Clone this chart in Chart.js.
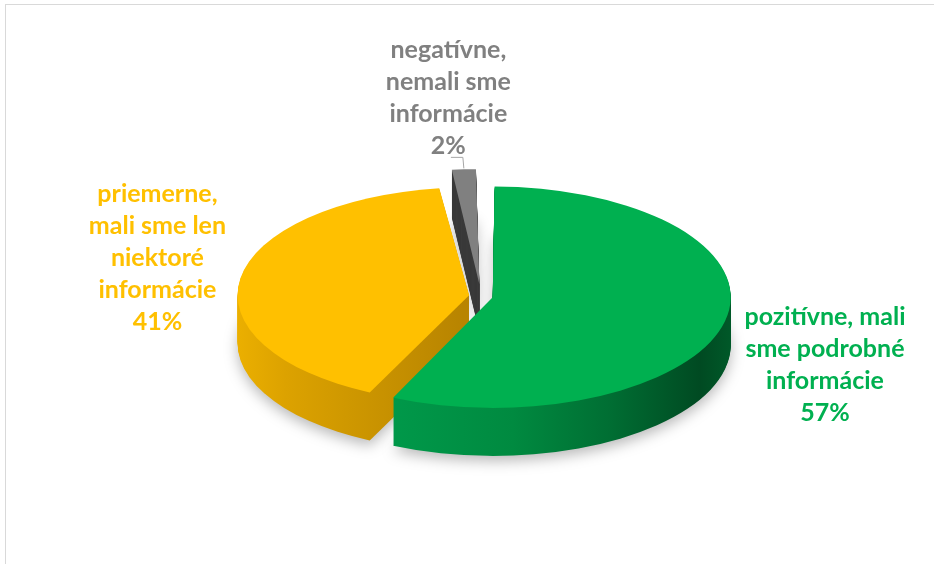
<!DOCTYPE html>
<html><head><meta charset="utf-8">
<script src="https://cdn.jsdelivr.net/npm/chart.js@4"></script>
<style>
html,body{margin:0;padding:0;background:#fff;overflow:hidden;width:934px;height:564px}
#frame{position:absolute;left:5px;top:4px;width:1000px;height:1000px;border-top:1px solid #d9d9d9;border-left:1px solid #d9d9d9;}
canvas{position:absolute;left:0;top:0}
</style></head><body>
<div id="frame"></div>
<canvas id="c" width="934" height="564"></canvas>
<script>
// ---- data ----
const categories = [
  "pozitívne, mali sme podrobné informácie",
  "priemerne, mali sme len niektoré informácie",
  "negatívne, nemali sme informácie"
];
const values = [57, 41, 2];
const labelLines = [
  ["pozitívne, mali", "sme podrobné", "informácie"],
  ["priemerne,", "mali sme len", "niektoré", "informácie"],
  ["negatívne,", "nemali sme", "informácie"]
];

// ---- styles / layout ----
const sliceColors = ['#00B050', '#FFC000', '#808080'];
const textColors  = ['#00B050', '#FFC000', '#808080'];
const explode = [48, 48, 100];
const TILT = 0.465, DEPTH = 48, RADIUS = 226;
const LINE_H = 32;
const FONT = 'bold 25px Lato';
// label shift from the projected slice edge to (text centre x, first baseline)
const labelShift = [[100, 4], [-83, -76], [-15.5, -111]];

function sideFill(ctx, i) {
  let g;
  if (i === 0) {
    g = ctx.createLinearGradient(375, 0, 735, 0);
    g.addColorStop(0, '#00994a'); g.addColorStop(0.35, '#008a40');
    g.addColorStop(0.62, '#006e33'); g.addColorStop(0.87, '#004a22');
    g.addColorStop(1, '#00602c');
  } else if (i === 1) {
    g = ctx.createLinearGradient(232, 0, 475, 0);
    g.addColorStop(0, '#f0b400'); g.addColorStop(0.27, '#dca200');
    g.addColorStop(0.52, '#cf9800'); g.addColorStop(1, '#b88400');
  } else {
    g = '#3a3a3a';
  }
  return g;
}
function tilt(ctx, arc) {
  ctx.translate(arc.x, arc.y); ctx.scale(1, TILT); ctx.translate(-arc.x, -arc.y);
}
function edgeAnchor(arc, i) {
  const a = (arc.startAngle + arc.endAngle) / 2;
  const off = explode[i] / 4;
  const fix = 1 - Math.sin(Math.min(Math.PI, arc.circumference));
  const dist = arc.outerRadius + off * fix + off;
  return { x: arc.x + Math.cos(a) * dist, y: arc.y + TILT * Math.sin(a) * dist };
}

const pie3d = {
  id: 'pie3d',
  beforeDatasetsDraw(chart) {
    const ctx = chart.ctx;
    const arcs = chart.getDatasetMeta(0).data;
    for (const i of [2, 1, 0]) {
      const arc = arcs[i];
      const side = Object.create(arc);
      side.options = Object.assign({}, arc.options, { backgroundColor: sideFill(ctx, i), borderWidth: 0 });
      for (let d = DEPTH; d >= 1; d--) {
        ctx.save();
        ctx.translate(0, d);
        tilt(ctx, arc);
        if (d === DEPTH) {
          ctx.shadowColor = 'rgba(0,0,0,0.28)';
          ctx.shadowBlur = 14;
          ctx.shadowOffsetY = 5;
        }
        side.draw(ctx);
        ctx.restore();
      }
    }
    ctx.save();
    tilt(ctx, arcs[0]);
  },
  afterDatasetsDraw(chart) {
    const ctx = chart.ctx;
    ctx.restore();
    const arcs = chart.getDatasetMeta(0).data;
    ctx.save();
    ctx.font = FONT;
    ctx.textAlign = 'center';
    ctx.textBaseline = 'alphabetic';
    arcs.forEach((arc, i) => {
      const p = edgeAnchor(arc, i);
      const cx = p.x + labelShift[i][0];
      const y0 = p.y + labelShift[i][1];
      const lines = labelLines[i].concat([values[i] + '%']);
      ctx.fillStyle = textColors[i];
      lines.forEach((t, k) => ctx.fillText(t, cx, y0 + k * LINE_H));
      if (i === 2) {
        ctx.strokeStyle = '#a6a6a6';
        ctx.lineWidth = 1;
        ctx.beginPath();
        ctx.moveTo(p.x - 13, p.y - 12);
        ctx.lineTo(p.x - 1, p.y - 12);
        ctx.lineTo(p.x, p.y - 1);
        ctx.stroke();
      }
    });
    ctx.restore();
  }
};

new Chart(document.getElementById('c'), {
  type: 'pie',
  data: {
    labels: categories,
    datasets: [{
      data: values,
      backgroundColor: sliceColors,
      borderWidth: 0,
      offset: explode,
      hoverOffset: 0
    }]
  },
  options: {
    responsive: false,
    animation: false,
    radius: RADIUS,
    layout: { padding: { left: 28, right: 0, top: 28, bottom: 0 } },
    plugins: { legend: { display: false }, tooltip: { enabled: false } },
    events: []
  },
  plugins: [pie3d]
});
</script>
</body></html>
